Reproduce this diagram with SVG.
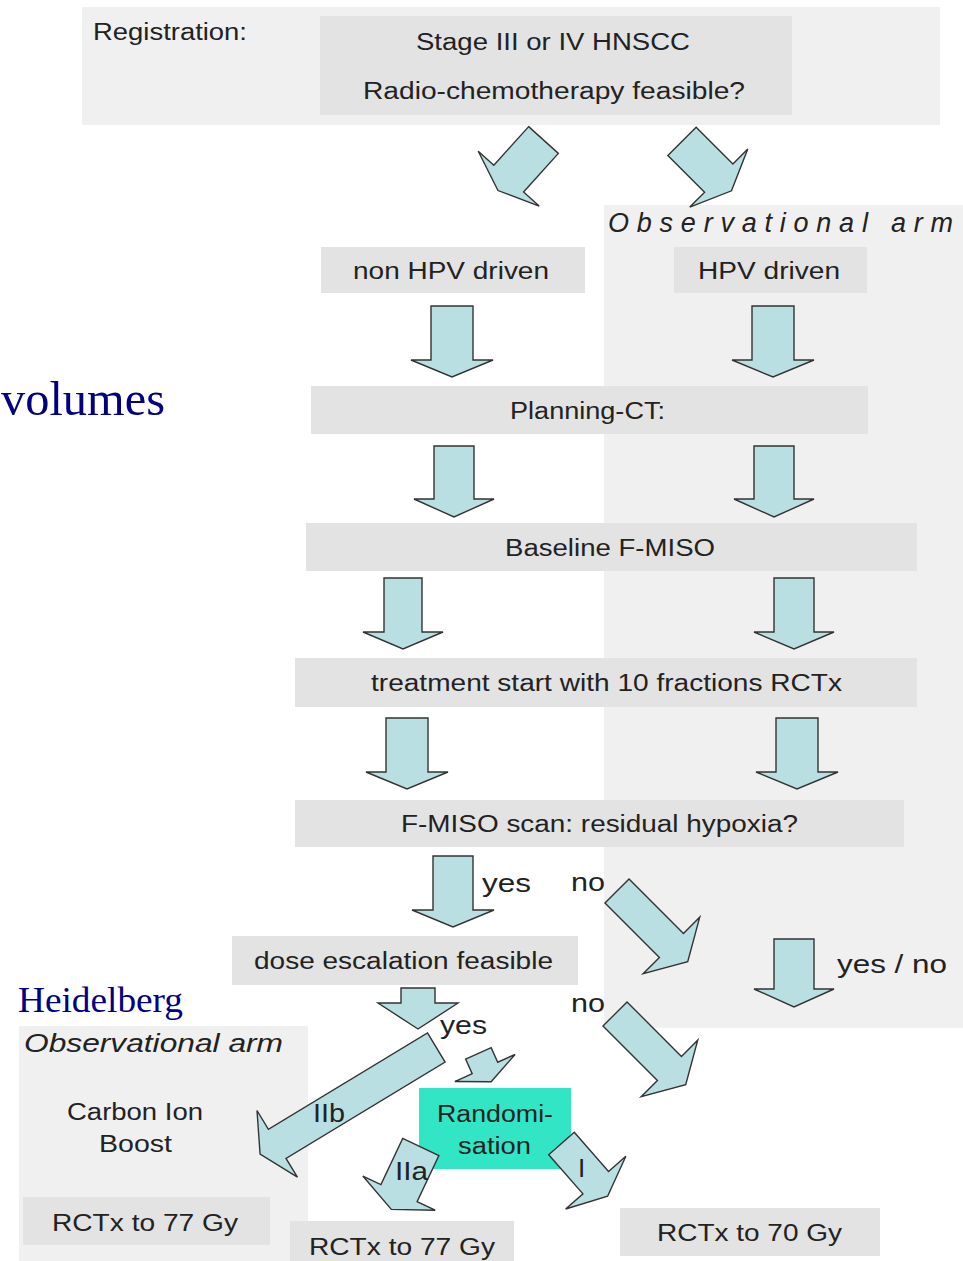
<svg xmlns="http://www.w3.org/2000/svg" width="963" height="1261" viewBox="0 0 963 1261">
<style>
.bg{fill:#f0f0f0}
.box{fill:#e3e3e3}
.t{font-family:"Liberation Sans",Arial,sans-serif;fill:#222;font-size:23px}
.lbl{font-family:"Liberation Sans",Arial,sans-serif;fill:#222;font-size:26px}
.it{font-family:"Liberation Sans",Arial,sans-serif;fill:#222;font-style:italic}
.ser{font-family:"Liberation Serif","Times New Roman",serif;fill:#000080}
.arr{fill:#badfe2;stroke:#333;stroke-width:1.4;stroke-linejoin:miter}
</style>
<rect width="963" height="1261" fill="#ffffff"/>

<g id="registration">
<rect class="bg" x="82" y="7" width="858" height="118"/>
<text class="t" x="93" y="40" font-size="24" textLength="154" lengthAdjust="spacingAndGlyphs">Registration:</text>
</g>
<g id="observational-arm-right">
<rect class="bg" x="604" y="205" width="359" height="823"/>
<text class="it" x="608" y="232" font-size="27" textLength="345" lengthAdjust="spacing">Observational arm</text>
</g>
<g id="observational-arm-left">
<rect class="bg" x="19" y="1026" width="289" height="235"/>
<text class="it" x="24" y="1052" font-size="26" textLength="259" lengthAdjust="spacingAndGlyphs">Observational arm</text>
<text class="t" x="67" y="1120" textLength="136" lengthAdjust="spacingAndGlyphs">Carbon Ion</text>
<text class="t" x="99" y="1152" textLength="73" lengthAdjust="spacingAndGlyphs">Boost</text>
</g>
<g id="label-volumes">
<text class="ser" x="1" y="415" font-size="48" textLength="164" lengthAdjust="spacingAndGlyphs">volumes</text>
</g>
<g id="label-heidelberg">
<text class="ser" x="18" y="1012" font-size="35" textLength="165" lengthAdjust="spacingAndGlyphs">Heidelberg</text>
</g>

<g id="stage-question">
<rect class="box" x="320" y="16" width="472" height="99"/>
<text class="t" x="416" y="50" font-size="24" textLength="274" lengthAdjust="spacingAndGlyphs">Stage III or IV HNSCC</text>
<text class="t" x="363" y="99" font-size="24" textLength="382" lengthAdjust="spacingAndGlyphs">Radio-chemotherapy  feasible?</text>
</g>
<g id="non-hpv">
<rect class="box" x="321" y="247" width="264" height="46"/>
<text class="t" x="353" y="279" textLength="196" lengthAdjust="spacingAndGlyphs">non HPV driven</text>
</g>
<g id="hpv">
<rect class="box" x="674" y="247" width="193" height="46"/>
<text class="t" x="698" y="279" textLength="142" lengthAdjust="spacingAndGlyphs">HPV driven</text>
</g>
<g id="planning-ct">
<rect class="box" x="311" y="386" width="557" height="48"/>
<text class="t" x="510" y="419" textLength="155" lengthAdjust="spacingAndGlyphs">Planning-CT:</text>
</g>
<g id="baseline-fmiso">
<rect class="box" x="306" y="523" width="611" height="48"/>
<text class="t" x="505" y="556" textLength="210" lengthAdjust="spacingAndGlyphs">Baseline F-MISO</text>
</g>
<g id="treatment-start">
<rect class="box" x="295" y="658" width="622" height="49"/>
<text class="t" x="371" y="691" textLength="471" lengthAdjust="spacingAndGlyphs">treatment start with 10 fractions RCTx</text>
</g>
<g id="fmiso-scan">
<rect class="box" x="295" y="800" width="609" height="47"/>
<text class="t" x="401" y="832" font-size="24" textLength="397" lengthAdjust="spacingAndGlyphs">F-MISO scan: residual hypoxia?</text>
</g>
<g id="dose-escalation">
<rect class="box" x="232" y="936" width="346" height="49"/>
<text class="t" x="254" y="969" textLength="299" lengthAdjust="spacingAndGlyphs">dose escalation feasible</text>
</g>
<g id="randomisation">
<rect x="419" y="1088" width="152" height="81" fill="#32e6c5"/>
<text class="t" x="437" y="1122" font-size="24" fill="#2a3f3a" textLength="116" lengthAdjust="spacingAndGlyphs">Randomi-</text>
<text class="t" x="458" y="1154" font-size="24" fill="#2a3f3a" textLength="73" lengthAdjust="spacingAndGlyphs">sation</text>
</g>
<g id="rctx77-left">
<rect class="box" x="23" y="1197" width="247" height="48"/>
<text class="t" x="52" y="1231" font-size="26" textLength="186" lengthAdjust="spacingAndGlyphs">RCTx to 77 Gy</text>
</g>
<g id="rctx77-mid">
<rect class="box" x="290" y="1221" width="224" height="40"/>
<text class="t" x="309" y="1255" font-size="26" textLength="186" lengthAdjust="spacingAndGlyphs">RCTx to 77 Gy</text>
</g>
<g id="rctx70">
<rect class="box" x="620" y="1208" width="260" height="48"/>
<text class="t" x="657" y="1241" font-size="26" textLength="185" lengthAdjust="spacingAndGlyphs">RCTx to 70 Gy</text>
</g>

<g id="connectors">
<path class="arr" transform="translate(543.5,140) rotate(42)" d="M-20,0 H20 V52 H41 L0,68 L-41,52 H-20 Z"/>
<path class="arr" transform="translate(682,141.3) rotate(-45)" d="M-20,0 H20 V52 H41 L0,70 L-41,52 H-20 Z"/>
<path class="arr" transform="translate(452,306)" d="M-21,0 H21 V54 H41 L0,71 L-41,54 H-21 Z"/>
<path class="arr" transform="translate(773,306)" d="M-21,0 H21 V54 H41 L0,71 L-41,54 H-21 Z"/>
<path class="arr" transform="translate(454,446)" d="M-20,0 H20 V53 H40 L0,71 L-40,53 H-20 Z"/>
<path class="arr" transform="translate(774,446)" d="M-20,0 H20 V53 H40 L0,71 L-40,53 H-20 Z"/>
<path class="arr" transform="translate(403,578)" d="M-19,0 H19 V54 H40 L0,71 L-40,54 H-19 Z"/>
<path class="arr" transform="translate(794,578)" d="M-20,0 H20 V54 H40 L0,71 L-40,54 H-20 Z"/>
<path class="arr" transform="translate(407,718)" d="M-21,0 H21 V54 H41 L0,71 L-41,54 H-21 Z"/>
<path class="arr" transform="translate(797,718)" d="M-21,0 H21 V54 H41 L0,71 L-41,54 H-21 Z"/>
<path class="arr" transform="translate(453,856)" d="M-20,0 H20 V54 H41 L0,71 L-41,54 H-20 Z"/>
<path class="arr" transform="translate(617,891) rotate(-45)" d="M-17,0 H17 V77 H40 L0,100 L-40,77 H-17 Z"/>
<path class="arr" transform="translate(794,939)" d="M-20,0 H20 V50 H40 L0,68 L-40,50 H-20 Z"/>
<path class="arr" transform="translate(418,988)" d="M-17,0 H17 V15 H40 L0,41 L-40,15 H-17 Z"/>
<path class="arr" transform="translate(615,1014) rotate(-45)" d="M-17,0 H17 V77 H40 L0,100 L-40,77 H-17 Z"/>
<path class="arr" transform="translate(436.3,1047.5) rotate(58.8)" d="M-17,0 H17 V186 H39 L0,206 L-39,186 H-17 Z"/>
<path class="arr" transform="translate(478.4,1053.4) rotate(-24.2)" d="M-14,0 H14 V16 H33 L0,31 L-33,16 H-14 Z"/>
<path class="arr" transform="translate(420.8,1147) rotate(25.3)" d="M-20,0 H20 V51 H40 L0,69 L-40,51 H-20 Z"/>
<path class="arr" transform="translate(561.5,1143.5) rotate(-41.2)" d="M-17,0 H17 V52 H40 L0,70 L-40,52 H-17 Z"/>
<text class="lbl" x="482" y="892" textLength="49" lengthAdjust="spacingAndGlyphs">yes</text>
<text class="lbl" x="571" y="891" textLength="34" lengthAdjust="spacingAndGlyphs">no</text>
<text class="lbl" x="837" y="973" textLength="110" lengthAdjust="spacingAndGlyphs">yes / no</text>
<text class="lbl" x="571" y="1012" textLength="34" lengthAdjust="spacingAndGlyphs">no</text>
<text class="lbl" x="440" y="1034" textLength="47" lengthAdjust="spacingAndGlyphs">yes</text>
<text class="lbl" x="313" y="1122" font-size="28" textLength="32" lengthAdjust="spacingAndGlyphs">IIb</text>
<text class="lbl" x="395" y="1180" font-size="28" textLength="33" lengthAdjust="spacingAndGlyphs">IIa</text>
<text class="lbl" x="578" y="1177" font-size="28">I</text>
</g>
</svg>
